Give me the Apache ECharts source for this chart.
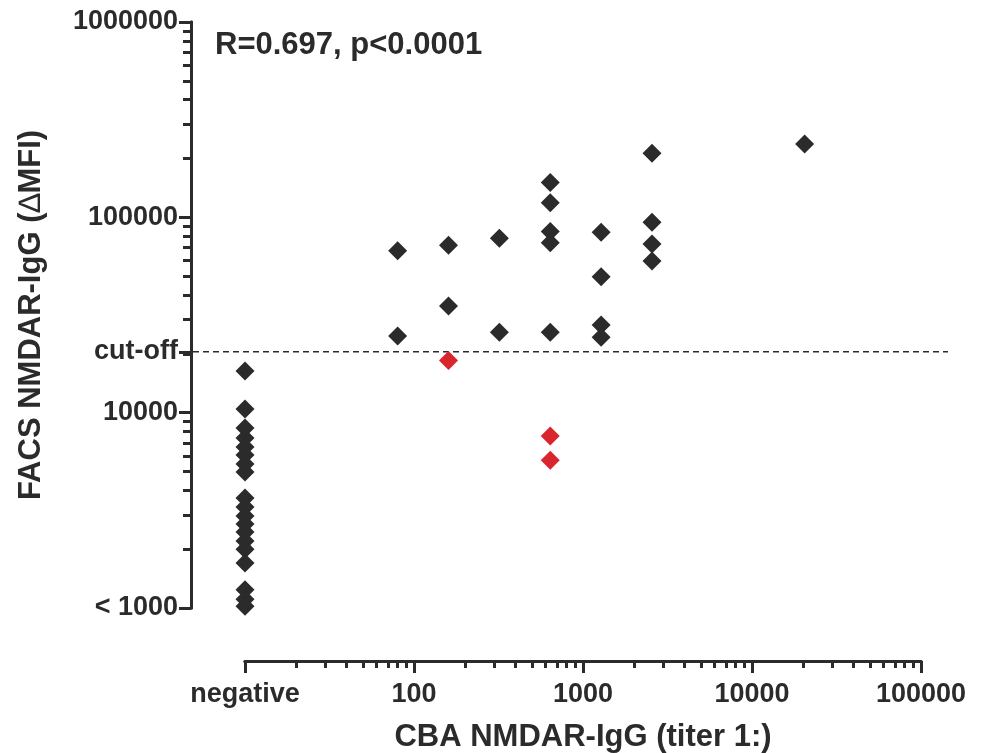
<!DOCTYPE html>
<html>
<head>
<meta charset="utf-8">
<title>CBA vs FACS NMDAR-IgG</title>
<script src="https://cdn.jsdelivr.net/npm/echarts@6/dist/echarts.min.js"></script>
<style>
    html, body { margin: 0; padding: 0; background: #ffffff; }
    #chart { width: 984px; height: 753px; }
</style>
</head>
<body>
<div id="chart"></div>
<script>
// 数据
const negativeTiter = 10; // "negative" sits at the left end of the titer axis
const negativeValues = [16350, 10440, 8350, 7420, 6670, 6070, 5460, 4970, 3660, 3290,
    2960, 2690, 2450, 2200, 2000, 1700, 1240, 1110, 1020];

const positiveTiters = [80, 80, 160, 160, 320, 320, 640, 640, 640, 640,
    640, 1280, 1280, 1280, 1280, 2560, 2560, 2560, 2560, 20480];
const positiveValues = [67500, 24700, 72000, 35200, 78200, 25800, 150600, 118900, 84500, 74200,
    25800, 83900, 49700, 28100, 24300, 212900, 94400, 73100, 59800, 237600];

const redTiters = [160, 640, 640];
const redValues = [18500, 7600, 5710];

const cutoffValue = 20500;

// tick values
const xMajorTicks = [10, 100, 1000, 10000, 100000];
const xMinorTicks = [20, 30, 40, 50, 60, 70, 80, 90,
    200, 300, 400, 500, 600, 700, 800, 900,
    2000, 3000, 4000, 5000, 6000, 7000, 8000, 9000,
    20000, 30000, 40000, 50000, 60000, 70000, 80000, 90000];
const yMajorTicks = [1000, 10000, cutoffValue, 100000, 1000000];
const yMinorTicks = [2000, 3000, 4000, 5000, 6000, 7000, 8000, 9000,
    20000, 30000, 40000, 50000, 60000, 70000, 80000, 90000,
    200000, 300000, 400000, 500000, 600000, 700000, 800000, 900000];

const annotation = 'R=0.697, p<0.0001';

const INK = '#2b2b2b';
const RED = '#d9262e';
const FONT = '"Liberation Sans", Arial, sans-serif';

document.addEventListener('DOMContentLoaded', function () {
    initializeChart();
});

function initializeChart() {
    const chartDom = document.getElementById('chart');
    const chart = echarts.init(chartDom, null, { renderer: 'canvas' });
    chart.setOption(getChartOptions());
    window.scatterChart = chart;
}

function sameValue(a, b) {
    return Math.abs(a - b) / b < 1e-6;
}

function xLabel(v) {
    if (sameValue(v, negativeTiter)) return 'negative';
    return String(Math.round(v));
}

function yLabel(v) {
    if (sameValue(v, 1000)) return '< 1000';
    if (sameValue(v, cutoffValue)) return 'cut-off';
    return String(Math.round(v));
}

function pairs(xs, ys) {
    return xs.map((x, i) => [x, ys[i]]);
}

function getChartOptions() {
    const lineStyle = { color: INK, width: 3 };
    const labelStyle = { color: INK, fontFamily: FONT, fontWeight: 'bold', fontSize: 27 };

    const xBase = {
        type: 'log',
        logBase: 10,
        min: 10,
        max: 100000,
        position: 'bottom',
        offset: 53,
        splitLine: { show: false },
        axisLine: { show: true, lineStyle: lineStyle }
    };
    const yBase = {
        type: 'log',
        logBase: 10,
        min: 1000,
        max: 1000000,
        position: 'left',
        offset: 54,
        splitLine: { show: false },
        axisLine: { show: true, lineStyle: lineStyle }
    };

    return {
        backgroundColor: '#ffffff',
        animation: false,
        title: {
            text: annotation,
            left: 215,
            top: 30,
            padding: 0,
            textStyle: { color: INK, fontFamily: FONT, fontWeight: 'bold', fontSize: 31 }
        },
        grid: {
            left: 245,
            right: 63,
            top: 22,
            bottom: 145,
            outerBoundsMode: 'none'
        },
        xAxis: [
            Object.assign({}, xBase, {
                name: 'CBA NMDAR-IgG (titer 1:)',
                nameLocation: 'middle',
                nameGap: 61,
                nameTextStyle: { color: INK, fontFamily: FONT, fontWeight: 'bold', fontSize: 31 },
                axisTick: { show: true, inside: false, length: 12, lineStyle: lineStyle, customValues: xMajorTicks },
                axisLabel: Object.assign({ margin: 20, formatter: xLabel, customValues: xMajorTicks }, labelStyle)
            }),
            Object.assign({}, xBase, {
                axisTick: { show: true, inside: false, length: 7, lineStyle: lineStyle, customValues: xMinorTicks },
                axisLabel: { show: false }
            })
        ],
        yAxis: [
            Object.assign({}, yBase, {
                name: 'FACS NMDAR-IgG ({d|∆}MFI)',
                nameLocation: 'middle',
                nameGap: 144,
                nameTextStyle: {
                    color: INK, fontFamily: FONT, fontWeight: 'bold', fontSize: 31,
                    rich: { d: { color: INK, fontFamily: FONT, fontWeight: 'normal', fontSize: 31 } }
                },
                axisTick: { show: true, inside: false, length: 12, lineStyle: lineStyle, customValues: yMajorTicks },
                axisLabel: Object.assign({ margin: 13, formatter: yLabel, customValues: yMajorTicks }, labelStyle)
            }),
            Object.assign({}, yBase, {
                axisTick: { show: true, inside: false, length: 8, lineStyle: lineStyle, customValues: yMinorTicks },
                axisLabel: { show: false }
            })
        ],
        series: [
            {
                // dashed cut-off line, runs from the y axis to past the end of the x axis
                name: 'cut-off',
                type: 'custom',
                clip: false,
                silent: true,
                data: [[negativeTiter, cutoffValue]],
                renderItem: function (params, api) {
                    const left = api.coord([10, cutoffValue]);
                    const right = api.coord([100000, cutoffValue]);
                    return {
                        type: 'line',
                        shape: { x1: left[0] - 52, y1: left[1], x2: right[0] + 27, y2: right[1] },
                        style: { stroke: INK, lineWidth: 1.5, lineDash: [6, 4] }
                    };
                }
            },
            {
                name: 'negative',
                type: 'scatter',
                symbol: 'diamond',
                symbolSize: 19,
                itemStyle: { color: INK, opacity: 1 },
                data: negativeValues.map(v => [negativeTiter, v])
            },
            {
                name: 'positive',
                type: 'scatter',
                symbol: 'diamond',
                symbolSize: 19,
                itemStyle: { color: INK, opacity: 1 },
                data: pairs(positiveTiters, positiveValues)
            },
            {
                name: 'below cut-off',
                type: 'scatter',
                symbol: 'diamond',
                symbolSize: 19,
                itemStyle: { color: RED, opacity: 1 },
                data: pairs(redTiters, redValues)
            }
        ]
    };
}
</script>
</body>
</html>
